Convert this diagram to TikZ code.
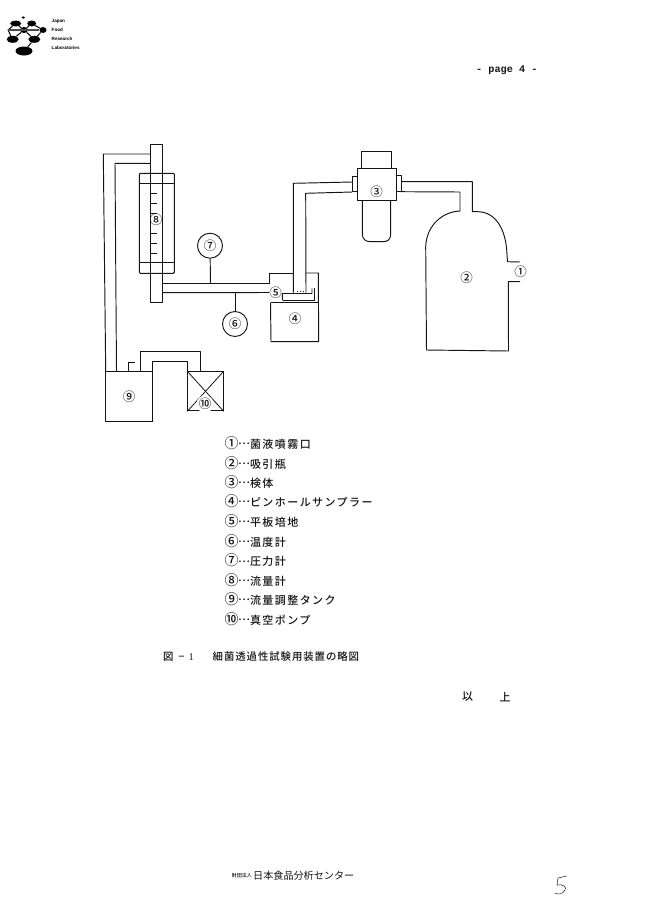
\documentclass[tikz,border=0pt]{standalone}
\usepackage{fontspec}
\usetikzlibrary{calc,shapes.geometric}
\newfontfamily\jpls[LetterSpace=13]{Noto Sans CJK JP Medium}
\newfontfamily\jp{Noto Sans CJK JP Medium}
\newfontfamily\jpcap[LetterSpace=9]{Noto Sans CJK JP Medium}
\newfontfamily\jpreg{Noto Sans CJK JP}
\newfontfamily\mono{Liberation Mono}
\newfontfamily\lsans{Liberation Sans}
\newfontfamily\lserif{Liberation Serif}
\definecolor{ink}{HTML}{141414}
\tikzset{
  pipe/.style={draw=ink,line width=0.95pt,line join=round},
  thin pipe/.style={draw=ink,line width=0.8pt},
  num/.style={inner sep=0pt,font=\jp\fontsize{12.5}{13}\selectfont,text=ink},
  gauge/.style={circle,draw=ink,line width=0.95pt,minimum size=25pt,inner sep=0pt,font=\jp\fontsize{12.5}{13}\selectfont,text=ink},
  listline/.style={anchor=west,inner sep=0pt,font=\jpls\fontsize{11}{12}\selectfont,text=ink},
  blob/.style={ellipse,fill=black,inner sep=0pt},
  logotext/.style={anchor=west,inner sep=0pt,font=\lsans\bfseries\fontsize{4.6}{5}\selectfont,text=black},
}
\newcommand{\dotsmid}{\raisebox{0.32em}{…}}
\newcommand{\bigdigit}[1]{{\jp\fontsize{14}{14}\selectfont #1}}
\begin{document}
\begin{tikzpicture}[x=1pt,y=-1pt]
\useasboundingbox (0,0) rectangle (648,916);

% --- logo
\node[blob,minimum width=11pt,minimum height=6pt] (lga) at (15.7,23.5) {};
\node[blob,minimum width=9pt,minimum height=6pt] (lgb) at (31.7,23.5) {};
\node[blob,minimum width=8pt,minimum height=6pt] (lgc) at (24,30) {};
\node[blob,minimum width=7pt,minimum height=6pt] (lgd) at (43,30) {};
\node[blob,minimum width=12pt,minimum height=7pt] (lge) at (12.7,39.3) {};
\node[blob,minimum width=12pt,minimum height=7pt] (lgf) at (34.3,39.3) {};
\node[blob,minimum width=17pt,minimum height=9pt] (lgg) at (24,51) {};
\node[blob,minimum width=3.5pt,minimum height=2.5pt] (lgh) at (23.3,17.5) {};
\coordinate (lgi) at (8,30);
\draw[black,line width=1pt] (lgi) -- (lga) -- (lgc) -- (lgb) -- (lgd) -- (lgf) -- (lgg);
\draw[black,line width=1pt] (lgi) -- (lge) -- (lgc) -- (lgf);
\draw[black!70,line width=1.2pt] (lgi) -- (lgd);
\node[logotext] (lt1) at (51.5,21) {Japan};
\node[logotext] (lt2) at (51.5,30) {Food};
\node[logotext] (lt3) at (51.5,39) {Research};
\node[logotext] (lt4) at (51.5,48) {Laboratories};

\node[anchor=west,inner sep=0pt,font=\mono\bfseries\fontsize{10.2}{12}\selectfont,text=ink] (page) at (476,70) {- page 4 -};

% --- flow meter
\draw[pipe] (150.7,302.7) -- (150.7,144) -- (162.5,144) -- (162.5,302.7) -- cycle;
\node[draw=ink,line width=0.95pt,rounded corners=1pt,minimum width=35pt,minimum height=100pt,inner sep=0pt] (fm) at (156.8,223.3) {};
\draw[thin pipe] (139.3,183) -- (174.3,183);
\draw[thin pipe] (139.3,262.7) -- (174.3,262.7);
\foreach \yy in {193.3,203.3,213.3,233.3,243.3,253.3}
  \draw[thin pipe] (151,\yy) -- (156.5,\yy);
\node[num] (n8) at (156,220) {⑧};

% --- return pipes to tank 9
\node[draw=ink,line width=0.95pt,minimum width=47pt,minimum height=49.3pt,inner sep=0pt] (tank) at (129.2,396.4) {};
\node[num] (n9) at (tank) {⑨};
\draw[pipe] (150.7,154) -- (103.3,154) -- (105.7,371.7);
\draw[pipe] (150.7,163.3) -- (115,163.3) -- (116.5,371.7);
\draw[pipe] (128.3,371.7) -- (128.3,362) -- (134.5,362);

% --- pump 10
\node[draw=ink,line width=0.95pt,minimum width=35.6pt,minimum height=39.3pt,inner sep=0pt] (pump) at (205.5,391.3) {};
\draw[thin pipe] (pump.north west) -- (pump.south east);
\draw[thin pipe] (pump.north east) -- (pump.south west);
\node[num,fill=white,circle] (n10) at (205,404) {⑩};
\draw[pipe] (140.7,371.7) -- (140.7,351.7) -- (200,351.7) -- (200,371.7);
\draw[pipe] (152.7,371.7) -- (152.7,361.7) -- (187.7,361.7) -- (187.7,371.7);

% --- main horizontal pipe
\node[num] (n5) at (275.5,292.5) {⑤};
\draw[pipe] (162.5,283.3) -- (269.5,283.3) -- (269.5,273) -- (293.3,273);
\draw[pipe] (306,273) -- (318.3,273) -- (318.7,341.7) -- (271,341.7) -- (270.5,302.7);
\draw[pipe] (162.5,292.7) -- (n5.west);
\draw[pipe] (270.5,302.7) -- (319,302.7);
\node[gauge] (g7) at (210,245.7) {⑦};
\node[gauge] (g6) at (235,324) {⑥};
\coordinate (t7) at (210.5,283.3);
\coordinate (t6) at (235,292.7);
\draw[pipe] (g7) -- (t7);
\draw[pipe] (g6) -- (t6);
\node[num] (n4) at (295,319) {④};

% --- plate
\draw[pipe] (282.5,300.3) -- (282.3,293.5) -- (312,293.5) -- (312,288.3);
\draw[draw=ink,line width=1.2pt] (282.5,300.3) -- (314.7,300.3) -- (314.7,287.7);
\draw[draw=ink,line width=0.8pt,dotted] (297,291.7) -- (304,291.7);

% --- pipe from sampler to specimen
\draw[pipe] (293.3,292.5) -- (293.3,183.3) -- (352.3,182);
\draw[pipe] (306,292.5) -- (305.7,193.3) -- (352.3,192);

% --- specimen 3
\node[draw=ink,line width=0.95pt,minimum width=39.4pt,minimum height=31.7pt,inner sep=0pt] (spec) at (377,184.2) {};
\node[num] (n3) at (376.7,191.7) {③};
\draw[pipe] (357.3,176) -- (352.3,176) -- (352.3,191.7) -- (357.3,191.7);
\draw[pipe] (396.7,175) -- (401,175) -- (401,191.7) -- (396.7,191.7);
\draw[pipe] (361.7,168.3) -- (361.7,151.7) -- (391,151.7) -- (391,168.3);
\draw[pipe] (362.3,200) -- (362.3,233) .. controls (362.3,240) and (366,241.7) .. (371,241.7) -- (382,241.7) .. controls (388,241.7) and (390.7,240) .. (390.7,233) -- (390.7,200);

% --- bottle 2
\draw[pipe] (401,181.7) -- (472.3,181.7) -- (472.3,211.7) -- (478,211.7)
  .. controls (495,212) and (505,228) .. (506.7,250) -- (507.5,261.7) -- (520,262);
\draw[pipe] (401,191.7) -- (460,192) -- (460,211)
  .. controls (440,212) and (426,228) .. (425.7,247) -- (426.5,350) -- (508.5,351) -- (508.3,281.7) -- (520,281.5);
\node[num] (n2) at (466.7,277.7) {②};
\node[num] (n1) at (520.7,271.7) {①};

% --- legend
\foreach \i/\t/\u/\yy in {1/①/菌液噴霧口/443,2/②/吸引瓶/462.7,3/③/検体/482,4/④/ピンホールサンプラー/501,5/⑤/平板培地/521,6/⑥/温度計/541,7/⑦/圧力計/560.5,8/⑧/流量計/580,9/⑨/流量調整タンク/599,10/⑩/真空ポンプ/619}
  \node[listline] (leg\i) at (224.5,\yy) {\bigdigit{\t}\kern-0.5pt\dotsmid\u};

\node[anchor=west,inner sep=0pt,font=\jpcap\fontsize{10.4}{12}\selectfont,text=ink] (figno) at (163,657) {図\hspace{5pt}−\hspace{4pt}\lserif 1};
\node[anchor=west,inner sep=0pt,font=\jpcap\fontsize{10.4}{12}\selectfont,text=ink] (cap) at (212.5,657) {細菌透過性試験用装置の略図};
\node[inner sep=0pt,font=\jp\fontsize{11}{12}\selectfont,text=ink] (izyo1) at (467.5,697) {以};
\node[inner sep=0pt,font=\jp\fontsize{11}{12}\selectfont,text=ink] (izyo2) at (505,697) {上};

% --- footer
\node[anchor=east,inner sep=0pt,font=\jp\fontsize{5}{6}\selectfont,text=ink] (fo1) at (252,876) {財団法人};
\node[anchor=west,inner sep=0pt,font=\jpreg\fontsize{10.1}{12}\selectfont,text=ink] (fo2) at (253,876) {日本食品分析センター};
\draw[ink,line width=0.5pt,line cap=round] (566.7,876) -- (558,878) -- (557,885) .. controls (563,884) and (567,887) .. (565,890) .. controls (563,894) and (558,895) .. (555,893);
\end{tikzpicture}
\end{document}
